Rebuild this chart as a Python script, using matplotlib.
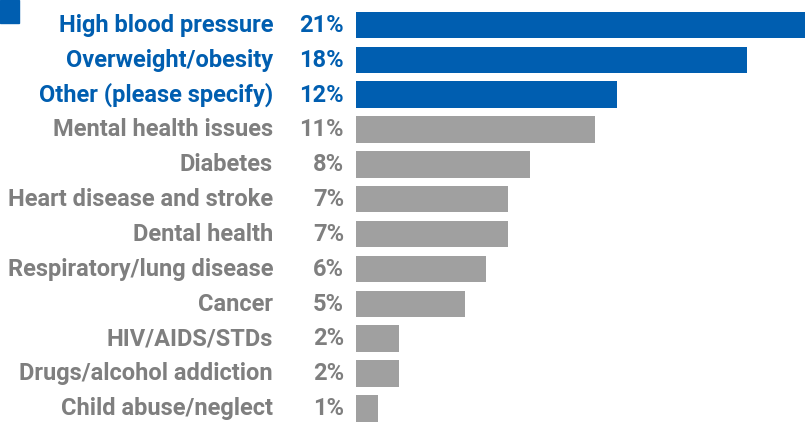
import matplotlib
matplotlib.use("Agg")
import matplotlib.pyplot as plt
from matplotlib.patches import Rectangle

categories = ["High blood pressure", "Overweight/obesity", "Other (please specify)",
              "Mental health issues", "Diabetes", "Heart disease and stroke",
              "Dental health", "Respiratory/lung disease", "Cancer",
              "HIV/AIDS/STDs", "Drugs/alcohol addiction", "Child abuse/neglect"]
values = [21, 18, 12, 11, 8, 7, 7, 6, 5, 2, 2, 1]
highlight = [True, True, True, False, False, False, False, False, False, False, False, False]

BLUE = "#005eb0"
GRAY_BAR = "#a0a0a0"
GRAY_TXT = "#7f7f7f"

W, H = 805, 422
fig = plt.figure(figsize=(W / 100, H / 100), dpi=100)
ax = fig.add_axes([356 / W, 0, (W - 356) / W, 1])
pitch = 34.85
top = 25.0
ax.set_ylim((H - top) / pitch, -top / pitch)
ax.set_xlim(0, (W - 356) / 21.72)
ax.axis("off")

FONT = ["Roboto", "Liberation Sans", "DejaVu Sans"]
FS = 17.0
pt = 72 / 100  # points per pixel
for i, (c, v, h) in enumerate(zip(categories, values, highlight)):
    col = BLUE if h else GRAY_BAR
    tcol = BLUE if h else GRAY_TXT
    ax.barh(i, v, height=0.76, color=col, edgecolor="none")
    ax.annotate(c, xy=(0, i), xycoords="data", xytext=(-83 * pt, -6.8 * pt),
                textcoords="offset points", ha="right", va="baseline",
                fontsize=FS, fontweight="bold", color=tcol, family=FONT,
                annotation_clip=False)
    ax.annotate(f"{v}%", xy=(0, i), xycoords="data", xytext=(-12 * pt, -6.8 * pt),
                textcoords="offset points", ha="right", va="baseline",
                fontsize=FS, fontweight="bold", color=tcol, family=FONT,
                annotation_clip=False)

fig.patches.append(Rectangle((0, 1 - 22.5 / H), 19 / W, 22.5 / H, transform=fig.transFigure,
                             color=BLUE, figure=fig))

fig.savefig("out.png", dpi=100)
